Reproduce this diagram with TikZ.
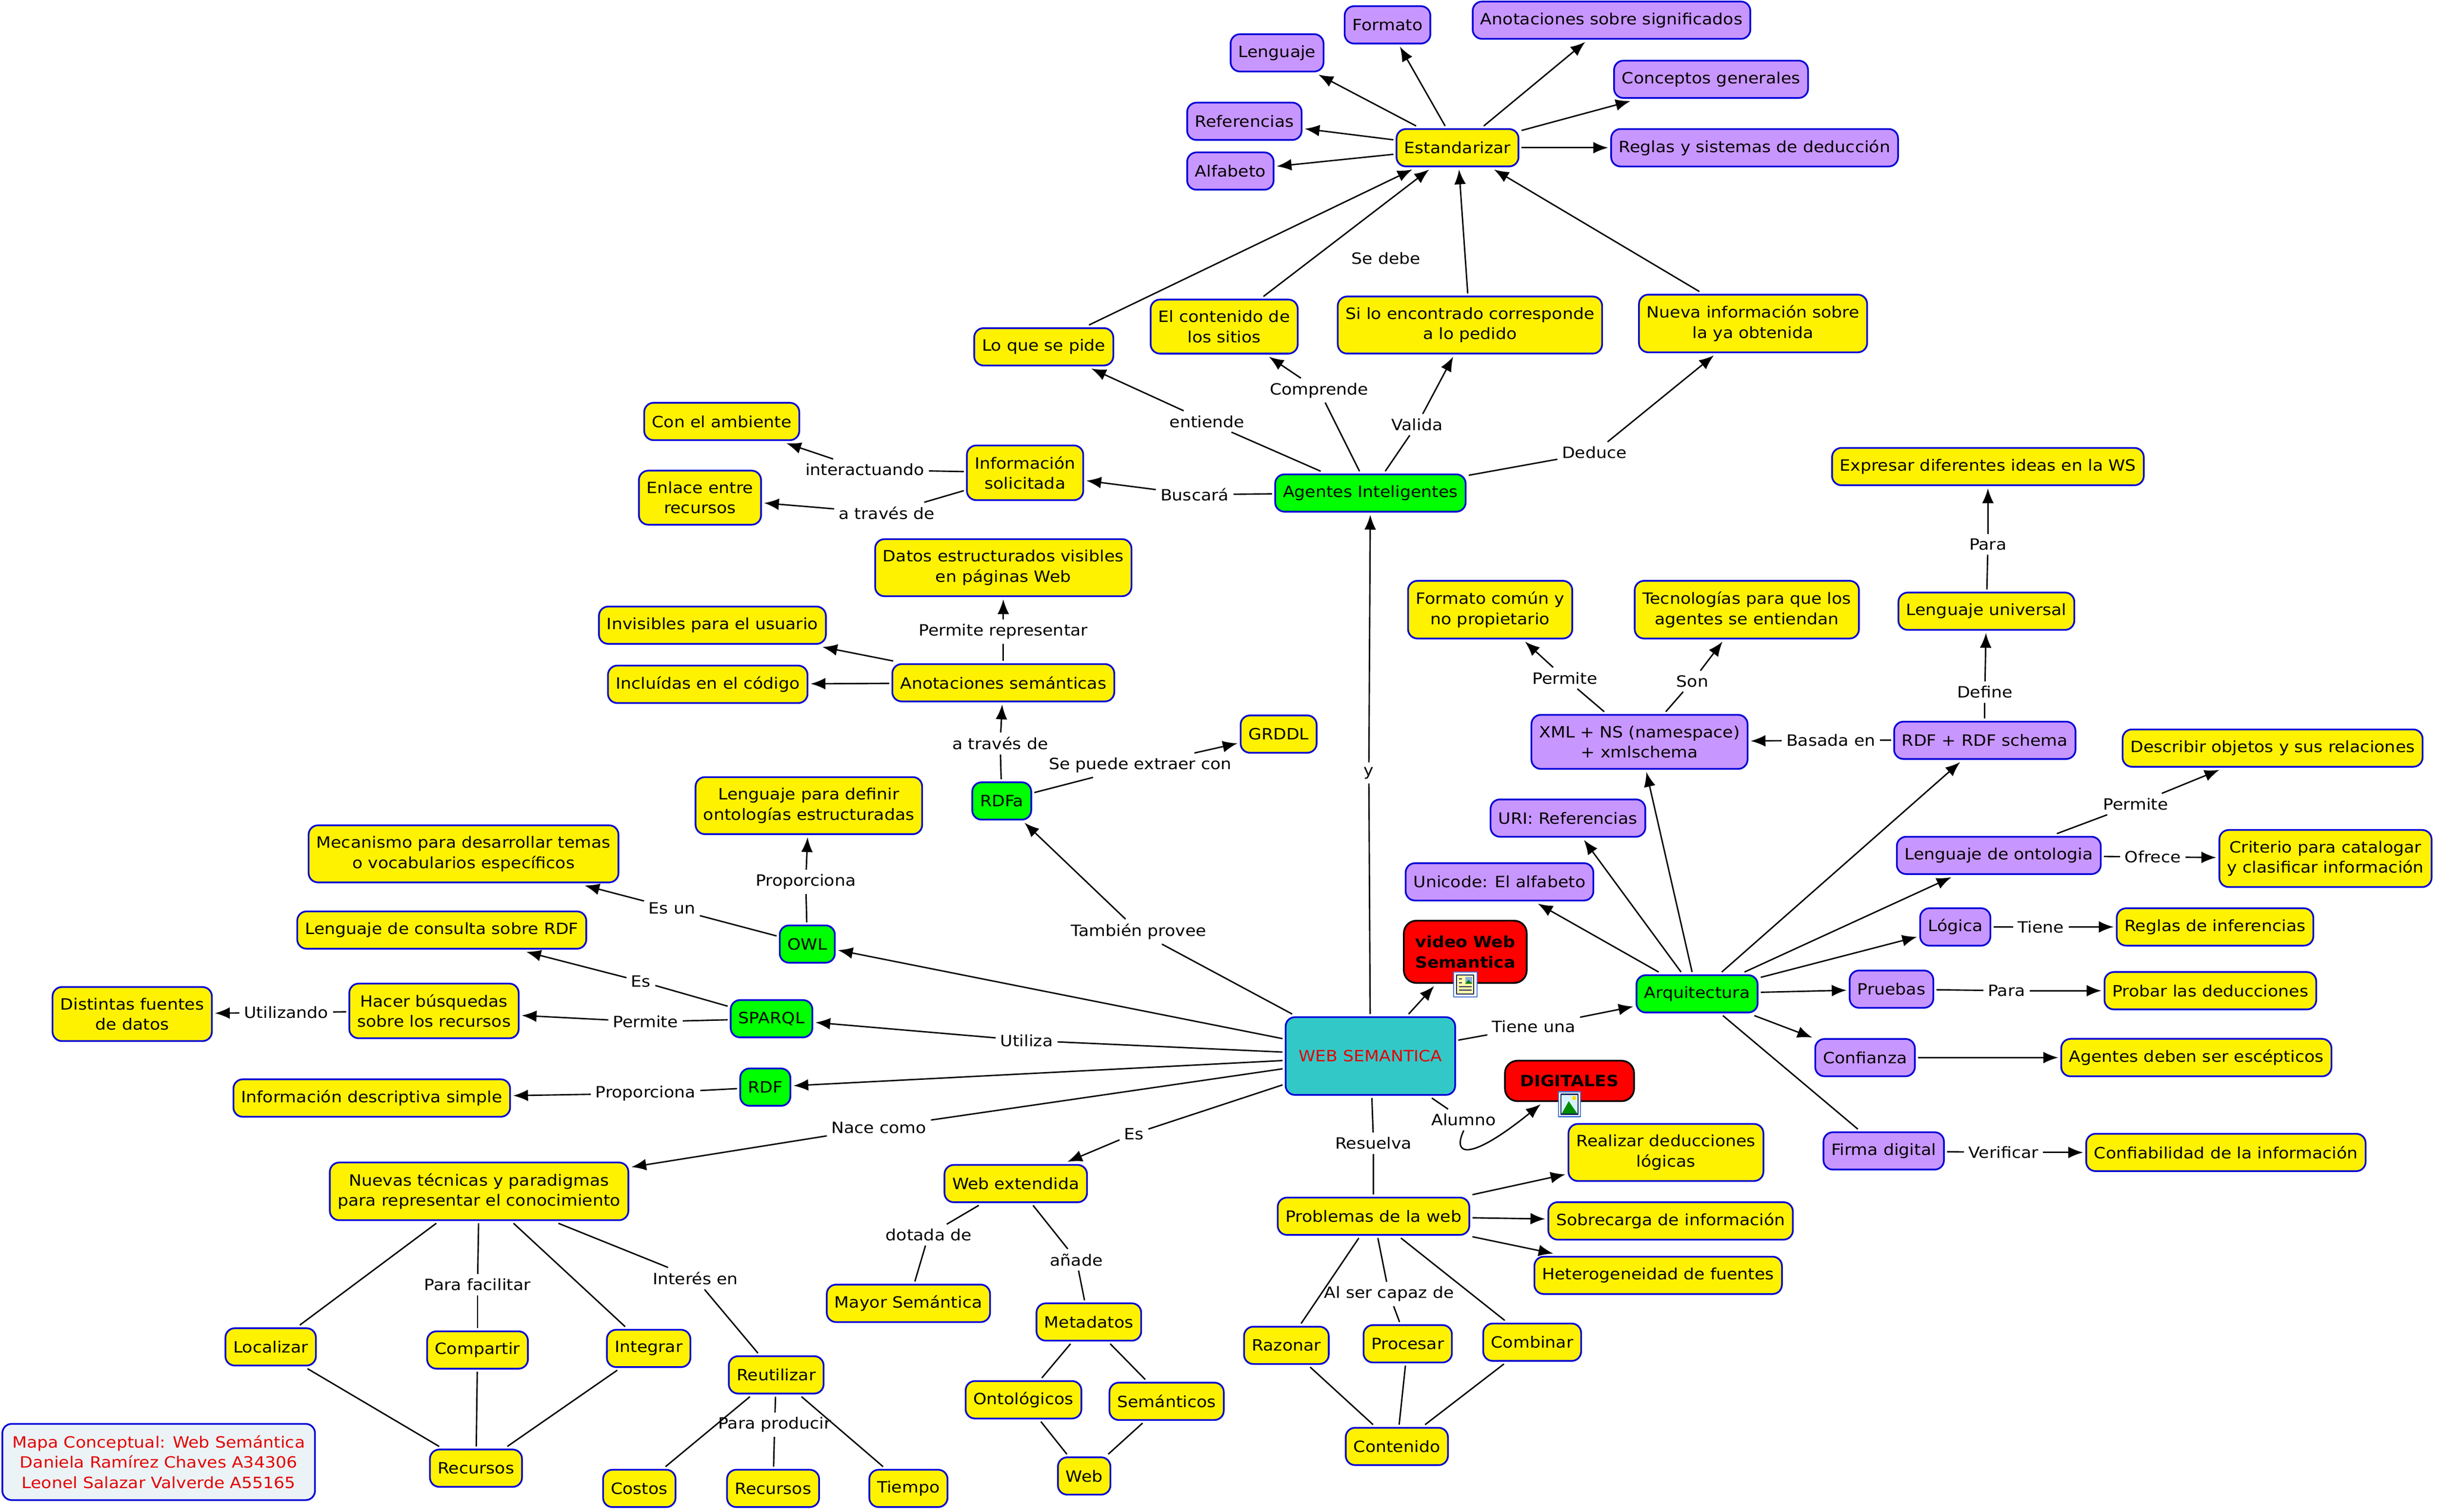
\documentclass[tikz,border=0pt]{standalone}
\usepackage{fontspec}
\setmainfont[FakeStretch=1.09]{DejaVu Sans}
\usetikzlibrary{arrows.meta}
\definecolor{bordeAzul}{RGB}{0,0,215}
\definecolor{fondoLila}{RGB}{200,150,255}
\definecolor{fondoVerde}{RGB}{0,255,0}
\definecolor{fondoCian}{RGB}{51,200,200}
\definecolor{fondoTitulo}{RGB}{236,243,246}
\definecolor{rojoTexto}{RGB}{228,0,0}
\definecolor{bordeIcono}{RGB}{70,120,210}
\definecolor{azulIcono}{RGB}{20,30,90}
\begin{document}
\begin{tikzpicture}[>={Latex[length=9.5bp,width=7.5bp]},line join=bevel,line width=0.9bp,
  font=\fontsize{10bp}{13bp}\selectfont,
  concepto/.style={draw=bordeAzul,line width=1.1bp,rounded corners=6bp,align=center,
    inner xsep=5bp,inner ysep=7bp,minimum height=24bp,outer sep=2bp},
  amarillo/.style={concepto,fill=yellow},
  lila/.style={concepto,fill=fondoLila},
  verde/.style={concepto,fill=fondoVerde},
  rojo/.style={concepto,draw=black,fill=red,rounded corners=8bp,
    font=\fontsize{10bp}{13bp}\selectfont\bfseries},
  enlace/.style={inner sep=2bp,outer sep=1bp,align=center}]
%%
\useasboundingbox (0bp,0bp) rectangle (1568bp,972bp);
  \node (node_estandarizar) at (937bp,877bp) [amarillo] {Estandarizar};
  \node (node_formato) at (892bp,956bp) [lila] {Formato};
  \node (node_lenguaje) at (821bp,938bp) [lila] {Lenguaje};
  \node (node_anotsig) at (1036bp,959bp) [lila] {Anotaciones sobre significados};
  \node (node_conceptos) at (1100bp,921bp) [lila] {Conceptos generales};
  \node (node_referencias) at (800bp,894bp) [lila] {Referencias};
  \node (node_alfabeto) at (791bp,862bp) [lila] {Alfabeto};
  \node (node_reglasded) at (1128bp,877bp) [lila] {Reglas y sistemas de deducción};
  \node (node_loquesepide) at (671bp,749bp) [amarillo] {Lo que se pide};
  \node (node_contenidositios) at (787bp,762bp) [amarillo] {El contenido de\\los sitios};
  \node (node_siloencontrado) at (945bp,763bp) [amarillo] {Si lo encontrado corresponde\\a lo pedido};
  \node (node_nuevainfo) at (1127bp,764bp) [amarillo] {Nueva información sobre\\la ya obtenida};
  \node (node_agentes) at (881bp,655bp) [verde] {Agentes Inteligentes};
  \node (node_infosolicitada) at (659bp,668bp) [amarillo] {Información\\solicitada};
  \node (node_conambiente) at (464bp,701bp) [amarillo] {Con el ambiente};
  \node (node_enlace) at (450bp,652bp) [amarillo] {Enlace entre\\recursos};
  \node (node_datosestr) at (645bp,607bp) [amarillo] {Datos estructurados visibles\\en páginas Web};
  \node (node_invisibles) at (458bp,570bp) [amarillo] {Invisibles para el usuario};
  \node (node_incluidas) at (455bp,532bp) [amarillo] {Incluídas en el código};
  \node (node_anotsem) at (645bp,533bp) [amarillo] {Anotaciones semánticas};
  \node (node_rdfa) at (644bp,457bp) [verde] {RDFa};
  \node (node_grddl) at (822bp,500bp) [amarillo] {GRDDL};
  \node (node_lengdefinir) at (520bp,454bp) [amarillo] {Lenguaje para definir\\ontologías estructuradas};
  \node (node_owl) at (519bp,365bp) [verde] {OWL};
  \node (node_mecanismo) at (298bp,423bp) [amarillo] {Mecanismo para desarrollar temas\\o vocabularios específicos};
  \node (node_lengconsulta) at (284bp,374bp) [amarillo] {Lenguaje de consulta sobre RDF};
  \node (node_sparql) at (496bp,317bp) [verde] {SPARQL};
  \node (node_hacerbusq) at (279bp,322bp) [amarillo] {Hacer búsquedas\\sobre los recursos};
  \node (node_distintas) at (85bp,320bp) [amarillo] {Distintas fuentes\\de datos};
  \node (node_rdf) at (492bp,273bp) [verde] {RDF};
  \node (node_infodesc) at (239bp,266bp) [amarillo] {Información descriptiva simple};
  \node (node_ws) at (881bp,293bp) [concepto,fill=fondoCian,text=rojoTexto,minimum width=109bp,minimum height=50bp] {WEB SEMANTICA};
  \node (node_video) at (942bp,360bp) [rojo,minimum width=79bp,minimum height=40bp] {video Web\\Semantica};
  \node (node_digitales) at (1009bp,277bp) [rojo,minimum width=83bp,minimum height=26bp] {DIGITALES};
  \node (node_nuevastec) at (308bp,206bp) [amarillo] {Nuevas técnicas y paradigmas\\para representar el conocimiento};
  \node (node_localizar) at (174bp,106bp) [amarillo] {Localizar};
  \node (node_compartir) at (307bp,104bp) [amarillo] {Compartir};
  \node (node_integrar) at (417bp,105bp) [amarillo] {Integrar};
  \node (node_reutilizar) at (499bp,88bp) [amarillo] {Reutilizar};
  \node (node_recursos) at (306bp,28bp) [amarillo] {Recursos};
  \node (node_costos) at (411bp,15bp) [amarillo] {Costos};
  \node (node_recursosdos) at (497bp,15bp) [amarillo] {Recursos};
  \node (node_tiempo) at (584bp,15bp) [amarillo] {Tiempo};
  \node (node_titulo) at (102bp,32bp) [concepto,fill=fondoTitulo,text=rojoTexto,minimum width=201bp,minimum height=49bp] {Mapa Conceptual: Web Semántica\\Daniela Ramírez Chaves A34306\\Leonel Salazar Valverde A55165};
  \node (node_webext) at (653bp,211bp) [amarillo] {Web extendida};
  \node (node_mayorsem) at (584bp,134bp) [amarillo] {Mayor Semántica};
  \node (node_metadatos) at (700bp,122bp) [amarillo] {Metadatos};
  \node (node_ontologicos) at (658bp,72bp) [amarillo] {Ontológicos};
  \node (node_semanticos) at (750bp,71bp) [amarillo] {Semánticos};
  \node (node_web) at (697bp,23bp) [amarillo] {Web};
  \node (node_problemas) at (883bp,190bp) [amarillo] {Problemas de la web};
  \node (node_realizar) at (1071bp,231bp) [amarillo] {Realizar deducciones\\lógicas};
  \node (node_sobrecarga) at (1074bp,187bp) [amarillo] {Sobrecarga de información};
  \node (node_heterog) at (1066bp,152bp) [amarillo] {Heterogeneidad de fuentes};
  \node (node_razonar) at (827bp,107bp) [amarillo] {Razonar};
  \node (node_procesar) at (905bp,108bp) [amarillo] {Procesar};
  \node (node_combinar) at (985bp,109bp) [amarillo] {Combinar};
  \node (node_contenido) at (898bp,42bp) [amarillo] {Contenido};
  \node (node_arquitectura) at (1091bp,333bp) [verde] {Arquitectura};
  \node (node_firma) at (1211bp,232bp) [lila] {Firma digital};
  \node (node_confiabilidad) at (1431bp,231bp) [amarillo] {Confiabilidad de la información};
  \node (node_confianza) at (1199bp,292bp) [lila] {Confianza};
  \node (node_escepticos) at (1412bp,292bp) [amarillo] {Agentes deben ser escépticos};
  \node (node_pruebas) at (1216bp,336bp) [lila] {Pruebas};
  \node (node_probar) at (1421bp,335bp) [amarillo] {Probar las deducciones};
  \node (node_logica) at (1257bp,376bp) [lila] {Lógica};
  \node (node_reglasinf) at (1424bp,376bp) [amarillo] {Reglas de inferencias};
  \node (node_lengonto) at (1285bp,422bp) [lila] {Lenguaje de ontologia};
  \node (node_criterio) at (1495bp,420bp) [amarillo] {Criterio para catalogar\\y clasificar información};
  \node (node_describir) at (1461bp,491bp) [amarillo] {Describir objetos y sus relaciones};
  \node (node_rdfschema) at (1276bp,496bp) [lila] {RDF + RDF schema};
  \node (node_lenguniv) at (1277bp,579bp) [amarillo] {Lenguaje universal};
  \node (node_expresar) at (1278bp,672bp) [amarillo] {Expresar diferentes ideas en la WS};
  \node (node_xml) at (1054bp,495bp) [lila] {XML + NS (namespace)\\+ xmlschema};
  \node (node_formatocomun) at (958bp,580bp) [amarillo] {Formato común y\\no propietario};
  \node (node_tecnologias) at (1123bp,580bp) [amarillo] {Tecnologías para que los\\agentes se entiendan};
  \node (node_uri) at (1008bp,446bp) [lila] {URI: Referencias};
  \node (node_unicode) at (964bp,405bp) [lila] {Unicode: El alfabeto};
  \node (node_entiende) at (776bp,701bp) [enlace] {entiende};
  \node (node_comprende) at (848bp,721bp) [enlace] {Comprende};
  \node (node_valida) at (911bp,699bp) [enlace] {Valida};
  \node (node_deduce) at (1025bp,681bp) [enlace] {Deduce};
  \node (node_buscara) at (768bp,654bp) [enlace] {Buscará};
  \node (node_interactuando) at (556bp,670bp) [enlace] {interactuando};
  \node (node_atraves) at (570bp,642bp) [enlace] {a través de};
  \node (node_sedebe) at (891bp,806bp) [enlace] {Se debe};
  \node (node_y) at (880bp,475bp) [enlace] {y};
  \node (node_permiterep) at (645bp,566bp) [enlace] {Permite representar};
  \node (node_atravesdos) at (643bp,494bp) [enlace] {a través de};
  \node (node_extraer) at (733bp,480bp) [enlace] {Se puede extraer con};
  \node (node_tambien) at (732bp,373bp) [enlace] {También provee};
  \node (node_proporciona) at (518bp,405bp) [enlace] {Proporciona};
  \node (node_esun) at (432bp,388bp) [enlace] {Es un};
  \node (node_es) at (412bp,341bp) [enlace] {Es};
  \node (node_permite) at (415bp,315bp) [enlace] {Permite};
  \node (node_utilizando) at (184bp,321bp) [enlace] {Utilizando};
  \node (node_utiliza) at (660bp,303bp) [enlace] {Utiliza};
  \node (node_proporcionados) at (415bp,269bp) [enlace] {Proporciona};
  \node (node_nacecomo) at (565bp,247bp) [enlace] {Nace como};
  \node (node_esdos) at (729bp,243bp) [enlace] {Es};
  \node (node_parafacilitar) at (307bp,146bp) [enlace] {Para facilitar};
  \node (node_interes) at (447bp,150bp) [enlace] {Interés en};
  \node (node_paraproducir) at (498bp,56bp) [enlace] {Para producir};
  \node (node_dotada) at (597bp,178bp) [enlace] {dotada de};
  \node (node_anade) at (692bp,162bp) [enlace] {añade};
  \node (node_resuelva) at (883bp,237bp) [enlace] {Resuelva};
  \node (node_alumno) at (941bp,252bp) [enlace] {Alumno};
  \node (node_alser) at (893bp,140bp) [enlace] {Al ser capaz de};
  \node (node_tieneuna) at (986bp,312bp) [enlace] {Tiene una};
  \node (node_basada) at (1177bp,496bp) [enlace] {Basada en};
  \node (node_define) at (1276bp,527bp) [enlace] {Define};
  \node (node_para) at (1278bp,622bp) [enlace] {Para};
  \node (node_permitexml) at (1006bp,536bp) [enlace] {Permite};
  \node (node_son) at (1088bp,534bp) [enlace] {Son};
  \node (node_permiteonto) at (1373bp,455bp) [enlace] {Permite};
  \node (node_ofrece) at (1384bp,421bp) [enlace] {Ofrece};
  \node (node_tiene) at (1312bp,376bp) [enlace] {Tiene};
  \node (node_parados) at (1290bp,335bp) [enlace] {Para};
  \node (node_verificar) at (1288bp,231bp) [enlace] {Verificar};
  \draw [black,->] (node_estandarizar) -- (node_lenguaje);
  \draw [black,->] (node_estandarizar) -- (node_formato);
  \draw [black,->] (node_estandarizar) -- (node_anotsig);
  \draw [black,->] (node_estandarizar) -- (node_conceptos);
  \draw [black,->] (node_estandarizar) -- (node_referencias);
  \draw [black,->] (node_estandarizar) -- (node_alfabeto);
  \draw [black,->] (node_estandarizar) -- (node_reglasded);
  \draw [black,->] (node_loquesepide) -- (node_estandarizar);
  \draw [black,->] (node_contenidositios) -- (node_estandarizar);
  \draw [black,->] (node_siloencontrado) -- (node_estandarizar);
  \draw [black,->] (node_nuevainfo) -- (node_estandarizar);
  \draw [black] (node_agentes) -- (node_entiende);
  \draw [black,->] (node_entiende) -- (node_loquesepide);
  \draw [black] (node_agentes) -- (node_comprende);
  \draw [black,->] (node_comprende) -- (node_contenidositios);
  \draw [black] (node_agentes) -- (node_valida);
  \draw [black,->] (node_valida) -- (node_siloencontrado);
  \draw [black] (node_agentes) -- (node_deduce);
  \draw [black,->] (node_deduce) -- (node_nuevainfo);
  \draw [black] (node_agentes) -- (node_buscara);
  \draw [black,->] (node_buscara) -- (node_infosolicitada);
  \draw [black] (node_infosolicitada) -- (node_interactuando);
  \draw [black,->] (node_interactuando) -- (node_conambiente);
  \draw [black] (node_infosolicitada) -- (node_atraves);
  \draw [black,->] (node_atraves) -- (node_enlace);
  \draw [black] (node_ws) -- (node_y);
  \draw [black,->] (node_y) -- (node_agentes);
  \draw [black] (node_anotsem) -- (node_permiterep);
  \draw [black,->] (node_permiterep) -- (node_datosestr);
  \draw [black,->] (node_anotsem) -- (node_invisibles);
  \draw [black,->] (node_anotsem) -- (node_incluidas);
  \draw [black] (node_rdfa) -- (node_atravesdos);
  \draw [black,->] (node_atravesdos) -- (node_anotsem);
  \draw [black] (node_rdfa) -- (node_extraer);
  \draw [black,->] (node_extraer) -- (node_grddl);
  \draw [black] (node_ws) -- (node_tambien);
  \draw [black,->] (node_tambien) -- (node_rdfa);
  \draw [black] (node_owl) -- (node_proporciona);
  \draw [black,->] (node_proporciona) -- (node_lengdefinir);
  \draw [black] (node_owl) -- (node_esun);
  \draw [black,->] (node_esun) -- (node_mecanismo);
  \draw [black,->] (node_ws) -- (node_owl);
  \draw [black] (node_ws) -- (node_utiliza);
  \draw [black,->] (node_utiliza) -- (node_sparql);
  \draw [black,->] (node_ws) -- (node_rdf);
  \draw [black] (node_sparql) -- (node_es);
  \draw [black,->] (node_es) -- (node_lengconsulta);
  \draw [black] (node_sparql) -- (node_permite);
  \draw [black,->] (node_permite) -- (node_hacerbusq);
  \draw [black] (node_hacerbusq) -- (node_utilizando);
  \draw [black,->] (node_utilizando) -- (node_distintas);
  \draw [black] (node_rdf) -- (node_proporcionados);
  \draw [black,->] (node_proporcionados) -- (node_infodesc);
  \draw [black] (node_ws) -- (node_nacecomo);
  \draw [black,->] (node_nacecomo) -- (node_nuevastec);
  \draw [black] (node_ws) -- (node_esdos);
  \draw [black,->] (node_esdos) -- (node_webext);
  \draw [black] (node_nuevastec) -- (node_localizar);
  \draw [black] (node_nuevastec) -- (node_parafacilitar);
  \draw [black] (node_parafacilitar) -- (node_compartir);
  \draw [black] (node_nuevastec) -- (node_integrar);
  \draw [black] (node_nuevastec) -- (node_interes);
  \draw [black] (node_interes) -- (node_reutilizar);
  \draw [black] (node_localizar) -- (node_recursos);
  \draw [black] (node_compartir) -- (node_recursos);
  \draw [black] (node_integrar) -- (node_recursos);
  \draw [black] (node_reutilizar) -- (node_costos);
  \draw [black] (node_reutilizar) -- (node_paraproducir);
  \draw [black] (node_paraproducir) -- (node_recursosdos);
  \draw [black] (node_reutilizar) -- (node_tiempo);
  \draw [black] (node_webext) -- (node_dotada);
  \draw [black] (node_dotada) -- (node_mayorsem);
  \draw [black] (node_webext) -- (node_anade);
  \draw [black] (node_anade) -- (node_metadatos);
  \draw [black] (node_metadatos) -- (node_ontologicos);
  \draw [black] (node_metadatos) -- (node_semanticos);
  \draw [black] (node_ontologicos) -- (node_web);
  \draw [black] (node_semanticos) -- (node_web);
  \draw [black] (node_ws) -- (node_resuelva);
  \draw [black] (node_resuelva) -- (node_problemas);
  \draw [black,->] (node_problemas) -- (node_realizar);
  \draw [black,->] (node_problemas) -- (node_sobrecarga);
  \draw [black,->] (node_problemas) -- (node_heterog);
  \draw [black] (node_problemas) -- (node_razonar);
  \draw [black] (node_problemas) -- (node_alser);
  \draw [black] (node_alser) -- (node_procesar);
  \draw [black] (node_problemas) -- (node_combinar);
  \draw [black] (node_razonar) -- (node_contenido);
  \draw [black] (node_procesar) -- (node_contenido);
  \draw [black] (node_combinar) -- (node_contenido);
  \draw [black,->] (node_ws) -- (node_video);
  \draw [black] (node_ws) -- (node_alumno);
  \draw [black,->] (node_alumno.south) ..controls (933bp,228bp) and (946bp,226bp) .. (node_digitales);
  \draw [black] (node_ws) -- (node_tieneuna);
  \draw [black,->] (node_tieneuna) -- (node_arquitectura);
  \draw [black,->] (node_arquitectura) -- (node_unicode);
  \draw [black,->] (node_arquitectura) -- (node_uri);
  \draw [black,->] (node_arquitectura) -- (node_xml);
  \draw [black,->] (node_arquitectura) -- (node_rdfschema);
  \draw [black,->] (node_arquitectura) -- (node_lengonto);
  \draw [black,->] (node_arquitectura) -- (node_logica);
  \draw [black,->] (node_arquitectura) -- (node_pruebas);
  \draw [black,->] (node_arquitectura) -- (node_confianza);
  \draw [black] (node_arquitectura) -- (node_firma);
  \draw [black] (node_firma) -- (node_verificar);
  \draw [black,->] (node_verificar) -- (node_confiabilidad);
  \draw [black,->] (node_confianza) -- (node_escepticos);
  \draw [black] (node_pruebas) -- (node_parados);
  \draw [black,->] (node_parados) -- (node_probar);
  \draw [black] (node_logica) -- (node_tiene);
  \draw [black,->] (node_tiene) -- (node_reglasinf);
  \draw [black] (node_lengonto) -- (node_ofrece);
  \draw [black,->] (node_ofrece) -- (node_criterio);
  \draw [black] (node_lengonto) -- (node_permiteonto);
  \draw [black,->] (node_permiteonto) -- (node_describir);
  \draw [black] (node_rdfschema) -- (node_basada);
  \draw [black,->] (node_basada) -- (node_xml);
  \draw [black] (node_rdfschema) -- (node_define);
  \draw [black,->] (node_define) -- (node_lenguniv);
  \draw [black] (node_lenguniv) -- (node_para);
  \draw [black,->] (node_para) -- (node_expresar);
  \draw [black] (node_xml) -- (node_permitexml);
  \draw [black,->] (node_permitexml) -- (node_formatocomun);
  \draw [black] (node_xml) -- (node_son);
  \draw [black,->] (node_son) -- (node_tecnologias);
  % iconos
  \draw [bordeIcono,fill=white,line width=0.8bp] (934.5bp,331bp) rectangle (949.5bp,347bp);
  \draw [azulIcono,fill=yellow!35,line width=0.6bp] (936.5bp,333bp) rectangle (947.5bp,345bp);
  \fill [bordeIcono!60] (942bp,339.5bp) rectangle (946.5bp,344bp);
  \fill [green!50!black] (942bp,339.5bp) -- (944bp,342bp) -- (946.5bp,339.5bp) -- cycle;
  \draw [azulIcono,line width=0.6bp] (938bp,335.5bp) -- (946bp,335.5bp) (938bp,337.5bp) -- (946bp,337.5bp)
    (938bp,340bp) -- (940bp,340bp) (938bp,342.5bp) -- (940bp,342.5bp);
  \draw [bordeIcono,fill=white,line width=0.8bp] (1002bp,254bp) rectangle (1016bp,270bp);
  \draw [azulIcono,fill=cyan!15,line width=0.8bp] (1003.5bp,255.5bp) rectangle (1014.5bp,268.5bp);
  \fill [green!55!black] (1004bp,256bp) -- (1008.5bp,264bp) -- (1014bp,256bp) -- cycle;
  \fill [yellow!80!orange] (1012bp,266bp) circle (1.4bp);
%
\end{tikzpicture}
\end{document}
